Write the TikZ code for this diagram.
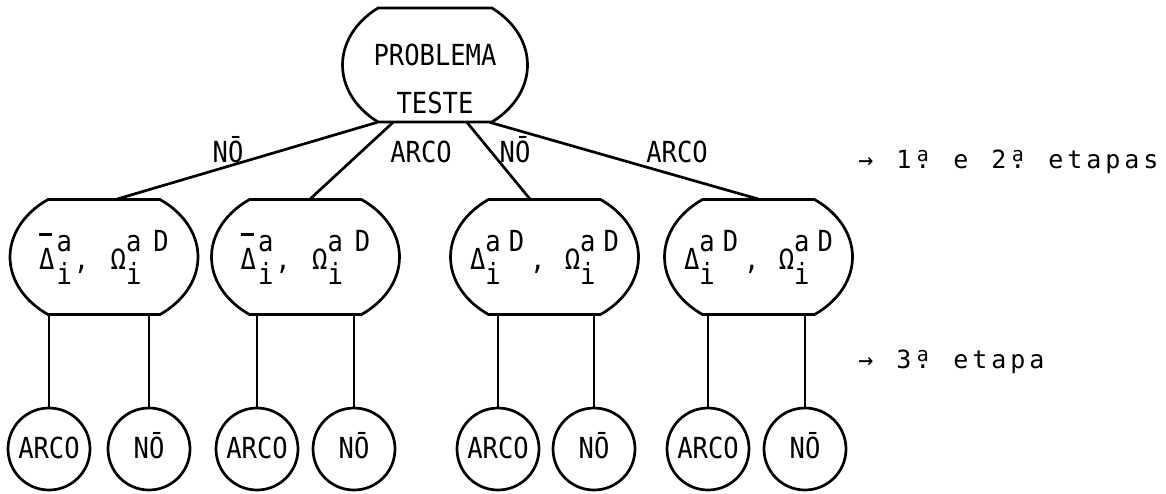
\documentclass[tikz,border=0pt]{standalone}
\usepackage{fontspec}
\newfontfamily\tw[FakeStretch=0.88]{DejaVu Sans Mono}
\newfontfamily\twn{DejaVu Sans Mono}
\usetikzlibrary{calc}
\newcommand\SupSub[2]{\rlap{\raisebox{-0.52em}{#2}}\raisebox{0.62em}{#1}}
\newcommand\bD{\rlap{\raisebox{1.15em}{\rule{0.45em}{0.08em}}}Δ}
\newcommand\ordi{\rlap{\makebox[9.5pt]{.}}\makebox[9.5pt]{\raisebox{3.5pt}{\fontsize{10pt}{10pt}\selectfont a}}}
\makeatletter
\newcommand\spaced[1]{\@tfor\@c:=#1\do{\makebox[9.5pt]{\@c}}}
\makeatother
\newcommand\chop[4]{\draw[shp] #1 ++(#4:#2 and #3) arc[start angle=#4, end angle=-#4, x radius=#2, y radius=#3] -- ++({-2*#2*cos(#4)},0) arc[start angle=180+#4, end angle=180-#4, x radius=#2, y radius=#3] -- cycle;}
\tikzset{
  lbl/.style={font=\tw\fontsize{14.5pt}{17pt}\selectfont, inner sep=0pt},
  shp/.style={line width=1.35pt},
  conn/.style={line width=1.35pt},
  mid/.style={lbl, minimum height=57.5pt, minimum width=56pt},
  leaf/.style={lbl, draw, circle, line width=1.35pt, minimum size=41pt, text height=0.93em, text depth=0pt},
  stage/.style={font=\twn\fontsize{12.5pt}{14pt}\selectfont, inner sep=0pt, anchor=base west},
  elab/.style={lbl, anchor=base}
}
\begin{document}
\begin{tikzpicture}[x=0.5pt, y=-0.5pt]
\useasboundingbox (0,0) rectangle (1166,493);
% root
\node[lbl, align=center, font=\tw\fontsize{14.5pt}{24pt}\selectfont, minimum height=43pt, minimum width=56pt] (top) at (435,79) {PROBLEMA\\TESTE};
\chop{([yshift=7pt]top.center)}{92.5}{72.3}{52}
% middle nodes
\node[mid] (m1) at (104,257) {\bD\kern1pt\SupSub{a}{i}\kern1pt,\ \kern3pt Ω\SupSub{a\kern6pt D}{i}};
\node[mid] (m2) at (305.5,257) {\bD\kern1pt\SupSub{a}{i}\kern1pt,\ \kern3pt Ω\SupSub{a\kern6pt D}{i}};
\node[mid] (m3) at (544.5,257) {Δ\SupSub{a\kern4pt D}{i}\kern3pt,\kern2pt\ Ω\SupSub{a\kern4pt D}{i}};
\node[mid] (m4) at (758.5,257) {Δ\SupSub{a\kern4pt D}{i}\kern3pt,\kern2pt\ Ω\SupSub{a\kern4pt D}{i}};
\chop{(m1.center)}{94}{71.6}{53.4}
\chop{(m2.center)}{94}{71.6}{53.4}
\chop{(m3.center)}{94}{71.6}{53.4}
\chop{(m4.center)}{94}{71.6}{53.4}
% edges from root
\draw[conn] ([xshift=-29pt]top.south) -- ([xshift=6.5pt]m1.north);
\draw[conn] ([xshift=-21pt]top.south) -- ([xshift=2.25pt]m2.north);
\draw[conn] ([xshift=16pt]top.south) -- ([xshift=-7.25pt]m3.north);
\draw[conn] ([xshift=27.5pt]top.south) -- (m4.north);
\node[elab] (l1) at (228,162) {NŌ};
\node[elab] (l2) at (421,162) {ARCO};
\node[elab] (l3) at (515,162) {NŌ};
\node[elab] (l4) at (677,162) {ARCO};
% leaves
\node[leaf] (c1) at (49,449) {ARCO};
\node[leaf] (c2) at (149,449) {NŌ};
\node[leaf] (c3) at (257,449) {ARCO};
\node[leaf] (c4) at (354,449) {NŌ};
\node[leaf] (c5) at (498,449) {ARCO};
\node[leaf] (c6) at (594,449) {NŌ};
\node[leaf] (c7) at (708,449) {ARCO};
\node[leaf] (c8) at (805,449) {NŌ};
\draw[conn] (c1 |- m1.south) -- (c1);
\draw[conn] (c2 |- m1.south) -- (c2);
\draw[conn] (c3 |- m2.south) -- (c3);
\draw[conn] (c4 |- m2.south) -- (c4);
\draw[conn] (c5 |- m3.south) -- (c5);
\draw[conn] (c6 |- m3.south) -- (c6);
\draw[conn] (c7 |- m4.south) -- (c7);
\draw[conn] (c8 |- m4.south) -- (c8);
% stage notes
\node[stage] (s1) at (856,168) {\spaced{→~1\ordi~e~2\ordi~etapas}};
\node[stage] (s2) at (856,368) {\spaced{→~3\ordi~etapa}};
\end{tikzpicture}
\end{document}
